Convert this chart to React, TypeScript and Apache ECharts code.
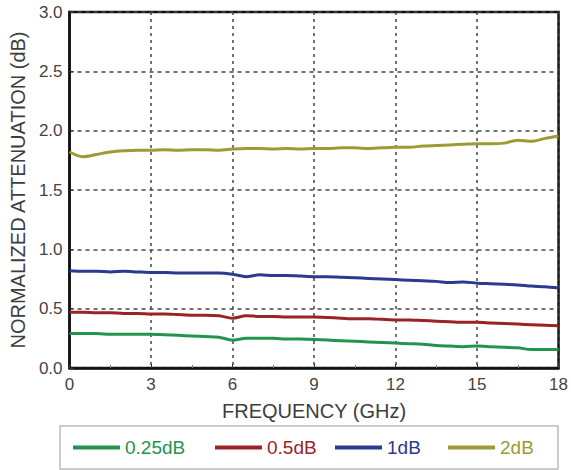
import React, { useEffect, useRef } from "react";
import * as echarts from "echarts";

const freq = [0, 0.5, 1, 1.5, 2, 2.5, 3, 3.5, 4, 4.5, 5, 5.5, 6, 6.5, 7, 7.5, 8, 8.5, 9, 9.5, 10, 10.5, 11, 11.5, 12, 12.5, 13, 13.5, 14, 14.5, 15, 15.5, 16, 16.5, 17, 17.5, 18];

const s025 = [0.29, 0.29, 0.29, 0.285, 0.285, 0.285, 0.285, 0.28, 0.275, 0.27, 0.265, 0.26, 0.235, 0.25, 0.25, 0.25, 0.245, 0.245, 0.24, 0.235, 0.23, 0.225, 0.22, 0.215, 0.21, 0.205, 0.2, 0.19, 0.185, 0.18, 0.185, 0.18, 0.175, 0.17, 0.155, 0.155, 0.155];
const s05 = [0.47, 0.47, 0.465, 0.465, 0.46, 0.46, 0.455, 0.455, 0.45, 0.445, 0.445, 0.44, 0.42, 0.44, 0.435, 0.435, 0.43, 0.43, 0.43, 0.425, 0.42, 0.415, 0.415, 0.41, 0.405, 0.405, 0.4, 0.395, 0.39, 0.385, 0.385, 0.38, 0.375, 0.37, 0.365, 0.36, 0.355];
const s1 = [0.82, 0.815, 0.815, 0.81, 0.815, 0.81, 0.805, 0.805, 0.8, 0.8, 0.8, 0.8, 0.79, 0.77, 0.785, 0.78, 0.78, 0.775, 0.77, 0.77, 0.765, 0.76, 0.755, 0.75, 0.745, 0.74, 0.735, 0.73, 0.72, 0.725, 0.715, 0.71, 0.705, 0.7, 0.69, 0.685, 0.675];
const s2 = [1.82, 1.78, 1.8, 1.82, 1.83, 1.835, 1.835, 1.84, 1.835, 1.84, 1.84, 1.835, 1.845, 1.85, 1.85, 1.845, 1.85, 1.845, 1.85, 1.85, 1.855, 1.855, 1.85, 1.855, 1.86, 1.86, 1.87, 1.875, 1.88, 1.885, 1.89, 1.89, 1.895, 1.92, 1.91, 1.935, 1.955];

const seriesNames = ["0.25dB", "0.5dB", "1dB", "2dB"];
const seriesColors = ["#23944f", "#9a2327", "#2b3a8e", "#9c9c36"];
const seriesData = [s025, s05, s1, s2];
const legendLefts = [73, 215, 335, 448];

export default function App() {
  const ref = useRef<HTMLDivElement>(null);
  useEffect(() => {
    const chart = echarts.init(ref.current!, undefined, { renderer: "svg" });
    const font = "Liberation Sans, Arial, sans-serif";
    chart.setOption({
      animation: false,
      backgroundColor: "#fff",
      grid: { left: 67, right: 10, top: 12, bottom: 102, show: true, borderColor: "#111", borderWidth: 2.5 },
      xAxis: {
        type: "value",
        min: 0,
        max: 18,
        interval: 3,
        name: "FREQUENCY (GHz)",
        nameLocation: "middle",
        nameGap: 33,
        nameTextStyle: { fontSize: 20, color: "#3d3d3d", fontFamily: font },
        axisLine: { show: true, lineStyle: { color: "#111", width: 2.5 } },
        axisTick: { show: true, inside: true, length: 4, lineStyle: { color: "#333" } },
        minorTick: { show: true, splitNumber: 2, length: 3, lineStyle: { color: "#777" } },
        axisLabel: { fontSize: 17, color: "#444", margin: 8, fontFamily: font },
        splitLine: { show: true, lineStyle: { color: "#444", type: [3, 4], width: 1.5 } },
      },
      yAxis: {
        type: "value",
        min: 0,
        max: 3,
        interval: 0.5,
        name: "NORMALIZED ATTENUATION (dB)",
        nameLocation: "middle",
        nameGap: 39,
        nameTextStyle: { fontSize: 20, color: "#3d3d3d", fontFamily: font },
        axisLine: { show: true, lineStyle: { color: "#111", width: 2.5 } },
        axisTick: { show: true, inside: true, length: 4, lineStyle: { color: "#333" } },
        axisLabel: { fontSize: 17, color: "#444", margin: 7, fontFamily: font, formatter: (v: number) => v.toFixed(1) },
        splitLine: { show: true, lineStyle: { color: "#444", type: [4, 4], width: 1.5 } },
      },
      legend: seriesNames.map((n, i) => ({
        data: [n],
        left: legendLefts[i],
        top: 438,
        padding: 0,
        itemWidth: 47,
        itemHeight: 4,
        icon: "rect",
        itemGap: 6,
        textStyle: { fontSize: 19, color: seriesColors[i], fontFamily: font },
      })),
      graphic: [
        { type: "rect", shape: { x: 60, y: 426, width: 498, height: 43 }, style: { fill: "none", stroke: "#bbb", lineWidth: 1.5 } },
      ],
      series: seriesNames.map((n, i) => ({
        name: n,
        type: "line",
        data: freq.map((f, j) => [f, seriesData[i][j]]),
        showSymbol: false,
        smooth: 0.3,
        lineStyle: { color: seriesColors[i], width: 3 },
        itemStyle: { color: seriesColors[i] },
      })),
    });
    return () => chart.dispose();
  }, []);
  return <div ref={ref} style={{ width: 571, height: 470, position: "absolute", left: 0, top: 0 }} />;
}
